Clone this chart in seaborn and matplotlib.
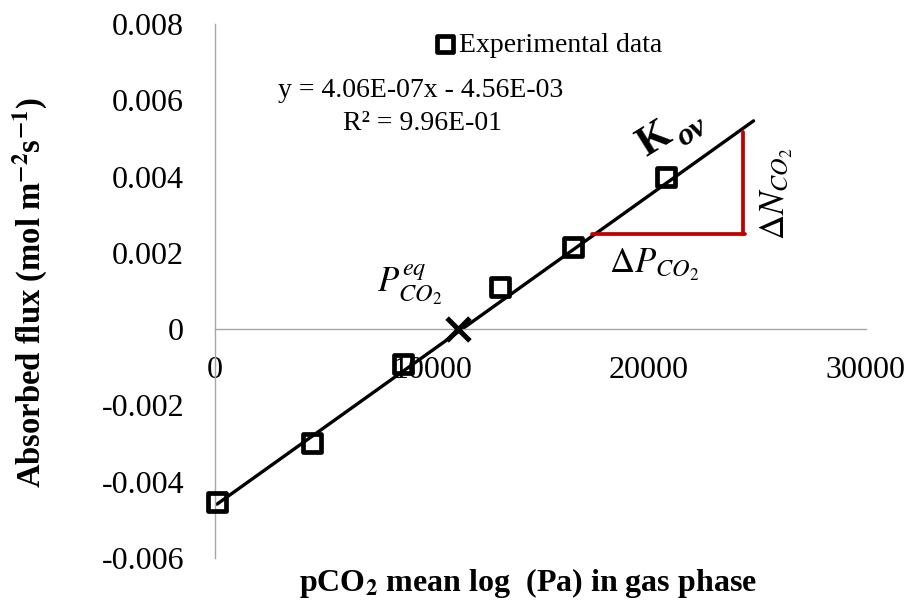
import matplotlib
matplotlib.use("Agg")
import matplotlib.pyplot as plt
import seaborn as sns

# ---- data ----
pco2 = [106, 4460, 8672, 13146, 16527, 20802]
flux = [-0.004543, -0.002997, -0.000918, 0.001093, 0.002142, 0.003977]
trend_x = [92, 24830]
trend_y = [-0.004588, 0.005461]
peq_x = [11208]
peq_y = [0.0]
dp_x = [17375, 24450]
dp_y = [0.002504, 0.002504]
dn_x = [24350, 24350]
dn_y = [0.002504, 0.005173]
xticks = [0, 10000, 20000, 30000]
xtick_labels = ["0", "10000", "20000", "30000"]
yticks = [-0.006, -0.004, -0.002, 0, 0.002, 0.004, 0.006, 0.008]
ytick_labels = ["-0.006", "-0.004", "-0.002", "0", "0.002", "0.004", "0.006", "0.008"]

sns.set_theme(style="white")
plt.rcParams['font.family'] = ['Liberation Serif', 'DejaVu Serif']
plt.rcParams['mathtext.fontset'] = 'stix'
plt.rcParams['text.color'] = 'black'
plt.rcParams['axes.labelcolor'] = 'black'
plt.rcParams['legend.labelcolor'] = 'black'

W, H = 907, 600
fig = plt.figure(figsize=(W / 100, H / 100), dpi=100)
ax = fig.add_axes([215 / W, 1 - 558 / H, (865.7 - 215) / W, 534 / H])

axis_gray = '#a6a6a6'

# trend line
sns.lineplot(x=trend_x, y=trend_y, color='black', linewidth=2.4,
             estimator=None, sort=False, ax=ax, zorder=2)
# red slope triangle
sns.lineplot(x=dp_x, y=dp_y, color='#c00000', linewidth=2.7,
             estimator=None, sort=False, ax=ax, zorder=3)
sns.lineplot(x=dn_x, y=dn_y, color='#c00000', linewidth=2.7,
             estimator=None, sort=False, ax=ax, zorder=3)
# experimental points
sns.scatterplot(x=pco2, y=flux, marker='s', s=169, color='black',
                facecolors='none', edgecolor='black', linewidth=3.4,
                label='Experimental data', ax=ax, zorder=4, clip_on=False)
# equilibrium point
sns.scatterplot(x=peq_x, y=peq_y, marker='x', s=270, color='black',
                linewidth=3.6, ax=ax, zorder=5, legend=False)

ax.set_xlim(0, 30000)
ax.set_ylim(-0.006, 0.008)
ax.set_xticks(xticks)
ax.set_xticklabels(xtick_labels)
ax.set_yticks(yticks)
ax.set_yticklabels(ytick_labels)

for s in ['top', 'right']:
    ax.spines[s].set_visible(False)
ax.spines['left'].set_position(('data', 0))
ax.spines['bottom'].set_position(('data', 0))
for s in ['left', 'bottom']:
    ax.spines[s].set_color(axis_gray)
    ax.spines[s].set_linewidth(1.0)

ax.tick_params(axis='both', direction='out', length=7.2, width=1.0,
               color=axis_gray, labelsize=23, labelcolor='black')
ax.tick_params(axis='y', pad=15)
ax.tick_params(axis='x', pad=12)
ax.grid(False)

ax.set_xlabel(r"pCO$_\mathbf{2}$ mean log  (Pa) in gas phase",
              fontsize=23, fontweight='bold', color='black')
ax.xaxis.set_label_coords((528 - 215) / 650.7, -0.015)
ax.set_ylabel(r"Absorbed flux (mol m$^{\mathbf{-2}}$s$^{\mathbf{-1}}$)",
              fontsize=23.5, fontweight='bold', color='black')
ax.yaxis.set_label_coords(-0.254, 0.497)

# regression annotation
ax.text(9502, 0.006266, "y = 4.06E-07x - 4.56E-03", fontsize=20,
        ha='center', va='center', color='black')
ax.text(9548, 0.005401, "R² = 9.96E-01", fontsize=20,
        ha='center', va='center', color='black')

# math annotations
ax.text(20250, 0.004954, "K", fontsize=30, fontweight='bold',
        rotation=32, ha='center', va='center', color='black')
ax.text(22000, 0.005150, "ov", fontsize=23, fontweight='bold',
        fontstyle='italic', rotation=32, ha='center', va='center',
        color='black')
ax.text(20249, 0.001678, r"$\Delta P_{CO_2}$", fontsize=25,
        ha='center', va='center', color='black')
ax.text(25923, 0.003539, r"$\Delta N_{CO_2}$", fontsize=25,
        rotation=90, ha='center', va='center', color='black')
ax.text(8994, 0.001154, r"$P_{CO_2}^{eq}$", fontsize=25,
        ha='center', va='center', color='black')

ax.legend(loc='center left', bbox_to_anchor=(431 / W, 1 - 45 / H),
          bbox_transform=fig.transFigure, frameon=False, fontsize=20,
          handlelength=1.0, handletextpad=0.0, borderpad=0,
          borderaxespad=0, markerscale=0.88, labelcolor='black')

fig.savefig("out.png", dpi=100)
